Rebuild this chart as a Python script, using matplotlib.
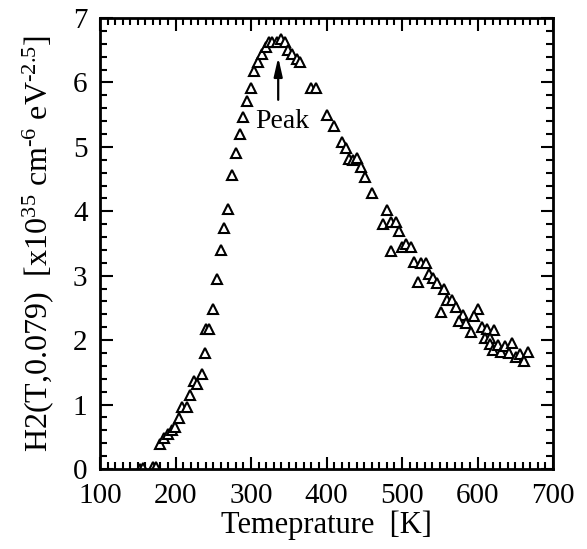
import numpy as np
import matplotlib
matplotlib.use("Agg")
import matplotlib.pyplot as plt
from matplotlib.ticker import MultipleLocator

plt.rcParams["font.family"] = ["Liberation Serif", "DejaVu Serif"]
plt.rcParams["mathtext.fontset"] = "custom"
plt.rcParams["mathtext.rm"] = "Liberation Serif"
plt.rcParams["mathtext.it"] = "Liberation Serif:italic"

# temperature [K] and H2 values
temperature = [153, 157, 170, 174, 179.5, 185, 190.5, 195, 199, 205, 209, 215, 219,
               224.5, 229, 235, 239.5, 240.4, 245, 250, 254.5, 260, 264.7, 270, 275,
               280, 285.4, 289.8, 295, 300, 304.4, 309.7, 315, 319.5, 323.8, 328, 334,
               339.7, 345, 349.4, 354.7, 360.5, 365, 379.5, 385.6, 400, 410, 420.8,
               425.4, 429.8, 435.5, 440.9, 445.7, 451, 460.7, 475, 480.5, 486, 491.5,
               496, 486, 499.5, 505, 511.4, 515.9, 524.7, 531.3, 520.7, 536, 541.5,
               546, 556, 559, 566, 571, 551, 581, 575, 585, 601, 595.7, 591, 606, 612,
               621.7, 610, 616, 616, 621, 627, 631, 636.4, 641.7, 646, 651, 656.3,
               661.6, 667]
h2 = [0.0, 0.02, 0.03, 0.03, 0.39, 0.48, 0.55, 0.6, 0.65, 0.79, 0.96, 0.96, 1.15,
      1.36, 1.32, 1.47, 1.8, 2.17, 2.17, 2.48, 2.95, 3.4, 3.74, 4.03, 4.56,
      4.9, 5.2, 5.47, 5.71, 5.92, 6.17, 6.31, 6.44, 6.55, 6.63, 6.62, 6.63,
      6.67, 6.63, 6.51, 6.44, 6.36, 6.32, 5.92, 5.91, 5.5, 5.33, 5.08,
      4.99, 4.81, 4.79, 4.82, 4.69, 4.53, 4.29, 3.8, 4.02, 3.84, 3.83,
      3.7, 3.39, 3.45, 3.5, 3.45, 3.22, 3.19, 3.19, 2.91, 3.03, 2.96,
      2.89, 2.8, 2.63, 2.62, 2.51, 2.44, 2.39, 2.3, 2.27, 2.49, 2.38, 2.12, 2.2, 2.17,
      2.16, 2.04, 2.04, 1.94, 1.85, 1.92, 1.82, 1.91, 1.8, 1.95, 1.74, 1.79,
      1.67, 1.81]

fig = plt.figure(figsize=(5.87, 5.49), dpi=100)
ax = fig.add_axes([0.1704, 0.1457, 0.7717, 0.8215])

ax.plot(temperature, h2, linestyle="none", marker="^", markersize=7,
        markerfacecolor="white", markeredgecolor="black", markeredgewidth=1.5)

ax.annotate("", xy=(336, 6.39), xytext=(336, 5.73),
            arrowprops=dict(arrowstyle="-|>,head_length=0.75,head_width=0.17",
                            color="black", lw=1.6,
                            mutation_scale=15, shrinkA=0, shrinkB=0))
ax.text(341, 5.39, "Peak", ha="center", va="center", fontsize=20)

ax.set_xlim(100, 700)
ax.set_ylim(0, 7)
ax.xaxis.set_major_locator(MultipleLocator(100))
ax.xaxis.set_minor_locator(MultipleLocator(10))
ax.yaxis.set_major_locator(MultipleLocator(1))
ax.yaxis.set_minor_locator(MultipleLocator(0.2))
ax.tick_params(which="both", direction="in", top=True, right=True,
               labelsize=21, width=1.5)
ax.tick_params(axis="x", pad=10)
ax.tick_params(axis="y", pad=9)
ax.tick_params(which="major", length=9)
ax.tick_params(which="minor", length=5)
for s in ax.spines.values():
    s.set_linewidth(2)

ax.set_xlabel("Temeprature  [K]", fontsize=22, labelpad=1)
ax.set_ylabel(r"H2(T,0.079)  [x10$^{35}$ cm$^{\text{-}6}$ eV$^{\text{-}2.5}$]",
              fontsize=23, labelpad=12)

fig.savefig("out.png", dpi=100)
